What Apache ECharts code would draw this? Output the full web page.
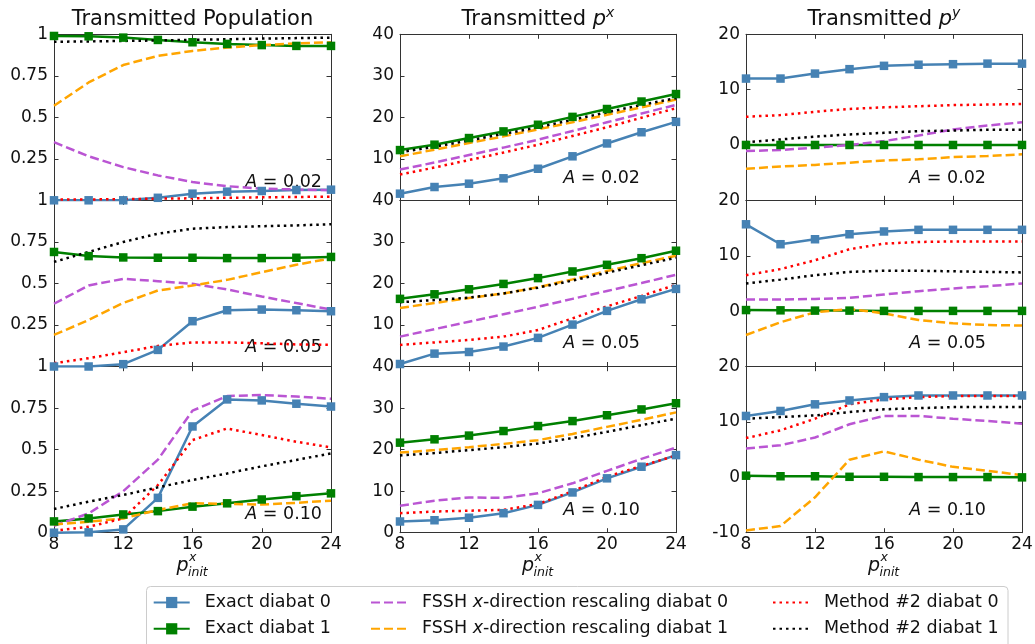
<!DOCTYPE html>
<html>
<head>
<meta charset="utf-8">
<script src="https://cdn.jsdelivr.net/npm/echarts@6/dist/echarts.min.js"></script>
<style>
  html, body { margin: 0; padding: 0; background: #fff; }
  #chart { width: 1035px; height: 644px; }
</style>
</head>
<body>
<div id="chart"></div>
<script>
// x values shared by every panel
const pInit = [8, 10, 12, 14, 16, 18, 20, 22, 24]

const seriesNames = [
  'Exact diabat 0',
  'Exact diabat 1',
  'FSSH x-direction rescaling diabat 0',
  'FSSH x-direction rescaling diabat 1',
  'Method #2 diabat 0',
  'Method #2 diabat 1'
]
const amplitudes = ['0.02', '0.05', '0.10']

// each panel: six rows in the same order as seriesNames
// Transmitted population
const popA002 = [
  [0, 0, 0, 0.015, 0.04, 0.052, 0.056, 0.062, 0.064],
  [0.99, 0.988, 0.98, 0.966, 0.952, 0.942, 0.935, 0.93, 0.93],
  [0.35, 0.265, 0.2, 0.15, 0.11, 0.085, 0.07, 0.065, 0.06],
  [0.57, 0.71, 0.815, 0.87, 0.9, 0.92, 0.935, 0.945, 0.952],
  [0.005, 0.005, 0.007, 0.01, 0.012, 0.015, 0.018, 0.02, 0.022],
  [0.955, 0.957, 0.96, 0.963, 0.967, 0.97, 0.974, 0.977, 0.98]
]
const popA005 = [
  [0, 0, 0.014, 0.1, 0.273, 0.339, 0.343, 0.339, 0.333],
  [0.69, 0.665, 0.657, 0.655, 0.655, 0.653, 0.653, 0.655, 0.66],
  [0.378, 0.488, 0.528, 0.514, 0.498, 0.464, 0.422, 0.382, 0.343],
  [0.19, 0.28, 0.383, 0.458, 0.488, 0.522, 0.568, 0.613, 0.651],
  [0.02, 0.05, 0.086, 0.124, 0.145, 0.145, 0.14, 0.133, 0.13],
  [0.63, 0.69, 0.75, 0.8, 0.83, 0.84, 0.845, 0.85, 0.857]
]
const popA010 = [
  [0, 0.002, 0.02, 0.21, 0.64, 0.803, 0.797, 0.777, 0.76],
  [0.068, 0.086, 0.11, 0.13, 0.157, 0.177, 0.2, 0.22, 0.237],
  [0.042, 0.116, 0.25, 0.44, 0.735, 0.823, 0.829, 0.82, 0.807],
  [0.05, 0.066, 0.086, 0.137, 0.177, 0.173, 0.17, 0.18, 0.193],
  [0.012, 0.036, 0.086, 0.287, 0.558, 0.628, 0.588, 0.548, 0.514],
  [0.143, 0.187, 0.227, 0.273, 0.317, 0.357, 0.4, 0.438, 0.478]
]
// Transmitted p^x
const pxA002 = [
  [1.6, 3.2, 4.0, 5.3, 7.6, 10.6, 13.7, 16.4, 18.9],
  [12.1, 13.4, 15.0, 16.6, 18.2, 20.1, 22.0, 23.8, 25.6],
  [7.4, 9.1, 10.9, 12.7, 14.6, 16.7, 18.8, 20.9, 23.0],
  [10.6, 12.2, 13.8, 15.4, 17.1, 18.8, 20.6, 22.4, 24.3],
  [6.2, 7.9, 9.7, 11.5, 13.4, 15.5, 17.6, 19.9, 22.2],
  [11.6, 12.9, 14.4, 16.0, 17.6, 19.4, 21.2, 23.0, 24.6]
]
const pxA005 = [
  [0.6, 3.1, 3.5, 4.8, 6.9, 10.1, 13.4, 16.2, 18.7],
  [16.3, 17.4, 18.6, 19.9, 21.3, 22.9, 24.5, 26.1, 27.9],
  [7.2, 9.0, 10.8, 12.6, 14.4, 16.3, 18.2, 20.1, 22.1],
  [14.1, 15.3, 16.5, 17.6, 19.1, 21.0, 23.0, 24.9, 26.7],
  [5.2, 5.8, 6.4, 7.2, 8.8, 11.6, 14.5, 17.0, 19.7],
  [15.5, 16.0, 16.6, 17.6, 19.0, 20.7, 22.6, 24.4, 26.2]
]
const pxA010 = [
  [2.7, 3.0, 3.6, 4.7, 6.7, 9.7, 13.1, 15.9, 18.7],
  [21.7, 22.5, 23.4, 24.5, 25.7, 26.9, 28.3, 29.7, 31.2],
  [6.5, 7.7, 8.5, 8.4, 9.5, 11.9, 14.9, 17.8, 20.5],
  [19.3, 19.9, 20.6, 21.4, 22.3, 23.8, 25.5, 27.2, 29.0],
  [4.7, 5.1, 5.3, 5.5, 6.9, 10.0, 13.5, 16.1, 18.6],
  [18.6, 19.2, 19.9, 20.6, 21.5, 22.8, 24.3, 25.9, 27.5]
]
// Transmitted p^y
const pyA002 = [
  [12.0, 12.0, 12.9, 13.7, 14.3, 14.5, 14.6, 14.7, 14.7],
  [0, 0, 0, 0, 0, 0, 0, 0, 0],
  [-1.1, -0.9, -0.5, 0, 0.7, 1.7, 2.8, 3.5, 4.1],
  [-4.3, -3.9, -3.6, -3.2, -2.8, -2.6, -2.2, -2.0, -1.7],
  [5.1, 5.4, 6.0, 6.5, 6.8, 7.0, 7.2, 7.3, 7.4],
  [0.5, 1.0, 1.5, 1.9, 2.2, 2.5, 2.6, 2.75, 2.75]
]
const pyA005 = [
  [15.7, 12.1, 13.0, 13.9, 14.4, 14.7, 14.7, 14.7, 14.7],
  [0.2, 0.15, 0.1, 0.1, 0.05, 0.05, 0.05, 0.05, 0.05],
  [2.1, 2.1, 2.2, 2.4, 3.0, 3.6, 4.1, 4.5, 5.0],
  [-4.3, -2.0, -0.2, 0.4, -0.4, -1.6, -2.2, -2.5, -2.6],
  [6.5, 7.6, 9.2, 11.2, 12.2, 12.5, 12.6, 12.6, 12.6],
  [5.0, 5.7, 6.5, 7.1, 7.3, 7.3, 7.2, 7.1, 7.0]
]
const pyA010 = [
  [11.1, 12.0, 13.2, 13.9, 14.5, 14.8, 14.8, 14.8, 14.8],
  [0.3, 0.2, 0.2, 0.1, 0.1, 0.05, 0.05, 0.05, 0],
  [5.2, 5.8, 7.2, 9.6, 11.1, 11.1, 10.6, 10.2, 9.7],
  [-9.6, -8.8, -3.6, 3.2, 4.7, 3.2, 1.9, 1.2, 0.4],
  [7.1, 8.5, 10.6, 13.2, 14.1, 14.5, 14.7, 14.7, 14.7],
  [10.6, 10.9, 11.2, 11.8, 12.3, 12.5, 12.7, 12.7, 12.7]
]

const panels = [
  [popA002, pxA002, pyA002],
  [popA005, pxA005, pyA005],
  [popA010, pxA010, pyA010]
]

const FONT = 'DejaVu Sans'
const INK = '#111'
const AXIS = '#333'
const colors = ['#4682b4', '#008000', '#ba55d3', '#ffa500', '#ff0000', '#000000']
const lineTypes = ['solid', 'solid', [9, 4], [9, 4], [2.5, 4], [2.5, 4]]

const colLeft = [54, 400, 746]
const colWidth = [277, 276, 276]
const rowTop = [34.3, 200.5, 366.7]
const rowHeight = 166
const yRange = [
  { min: 0, max: 1, interval: 0.25 },
  { min: 0, max: 40, interval: 10 },
  { min: -10, max: 20, interval: 10 }
]
// A-label offsets from the right / bottom of each column
const aRight = [9, 36, 36]
const aAbove = [[18, 22, 22], [19, 22.6, 22.6], [18, 22.7, 22.7]]

const grids = [], xAxes = [], yAxes = [], series = [], graphics = []

const tick = { show: true, inside: true, length: 4.5, lineStyle: { color: AXIS, width: 1 } }
const line = { show: true, onZero: false, lineStyle: { color: AXIS, width: 1 } }

for (let r = 0; r < 3; r++) {
  for (let c = 0; c < 3; c++) {
    const g = r * 3 + c
    grids.push({
      left: colLeft[c], top: rowTop[r], width: colWidth[c], height: rowHeight,
      containLabel: false, outerBoundsMode: 'none'
    })
    xAxes.push({
      gridIndex: g, type: 'value', position: 'bottom', min: 8, max: 24, interval: 4,
      axisLine: line, axisTick: tick, splitLine: { show: false },
      axisLabel: { show: r === 2, fontSize: 17, color: INK, fontFamily: FONT, margin: 3 }
    })
    xAxes.push({
      gridIndex: g, type: 'value', position: 'top', min: 8, max: 24, interval: 4,
      axisLine: line, axisTick: tick, splitLine: { show: false }, axisLabel: { show: false }
    })
    yAxes.push({
      gridIndex: g, type: 'value', position: 'left', ...yRange[c],
      axisLine: line, axisTick: tick, splitLine: { show: false },
      axisLabel: { fontSize: 17, color: INK, fontFamily: FONT, margin: 6, showMinLabel: r === 2 }
    })
    yAxes.push({
      gridIndex: g, type: 'value', position: 'right', ...yRange[c],
      axisLine: line, axisTick: tick, splitLine: { show: false }, axisLabel: { show: false }
    })

    const data = panels[r][c]
    seriesNames.forEach((name, s) => {
      const exact = s < 2
      series.push({
        type: 'line',
        name: name,
        xAxisIndex: 2 * g,
        yAxisIndex: 2 * g,
        data: pInit.map((x, i) => [x, data[s][i]]),
        symbol: exact ? 'rect' : 'circle',
        symbolSize: 8.5,
        showSymbol: exact,
        clip: true,
        color: colors[s],
        // no marker for dashed / dotted curves (also hides the legend dot)
        itemStyle: { color: colors[s], opacity: exact ? 1 : 0 },
        lineStyle: { color: colors[s], width: 2.5, type: lineTypes[s], opacity: 1 },
        emphasis: { disabled: true }
      })
    })

    // "A = 0.02" label
    graphics.push({
      type: 'text',
      x: colLeft[c] + colWidth[c] - aRight[c],
      y: rowTop[r] + rowHeight - aAbove[r][c],
      style: {
        text: '{a|A} = ' + amplitudes[r],
        align: 'right', verticalAlign: 'middle',
        fontSize: 17.5, fontFamily: FONT, fill: INK,
        rich: { a: { fontStyle: 'italic', fontSize: 17.5, fontFamily: FONT, fill: INK } }
      }
    })
  }
}

// x axis names p^x_init under the bottom row
for (let c = 0; c < 3; c++) {
  const cx = colLeft[c] + colWidth[c] / 2
  graphics.push(
    { type: 'text', x: cx - 16, y: 566, style: { text: 'p', fontSize: 19, fontStyle: 'italic', fontFamily: FONT, fill: INK, verticalAlign: 'middle' } },
    { type: 'text', x: cx - 3.5, y: 557.5, style: { text: 'x', fontSize: 12.5, fontStyle: 'italic', fontFamily: FONT, fill: INK, verticalAlign: 'middle' } },
    { type: 'text', x: cx - 4.5, y: 572.5, style: { text: 'init', fontSize: 12.5, fontStyle: 'italic', fontFamily: FONT, fill: INK, verticalAlign: 'middle' } }
  )
}

// legend frame
graphics.push({
  type: 'rect', z: -1,
  shape: { x: 146.5, y: 586.5, width: 861.5, height: 80, r: 4 },
  style: { fill: 'rgba(255,255,255,0.8)', stroke: '#cccccc', lineWidth: 1 }
})

const titleTexts = [
  'Transmitted Population',
  '{t|Transmitted }{p|p}{s|x}',
  '{t|Transmitted }{p|p}{s|y}'
]
const titleRich = {
  t: { fontSize: 21, fontFamily: FONT, color: INK, lineHeight: 28 },
  p: { fontSize: 21, fontFamily: FONT, color: INK, fontStyle: 'italic', lineHeight: 28 },
  s: { fontSize: 14, fontFamily: FONT, color: INK, fontStyle: 'italic', lineHeight: 14, verticalAlign: 'top' }
}

const legendLeft = [152.7, 370, 772]

const chart = echarts.init(document.getElementById('chart'))
chart.setOption({
  animation: false,
  backgroundColor: '#fff',
  title: titleTexts.map((t, c) => ({
    text: t,
    left: colLeft[c] + colWidth[c] / 2,
    top: 6,
    textAlign: 'center',
    padding: 0,
    textStyle: { fontSize: 21, fontWeight: 'normal', fontFamily: FONT, color: INK, lineHeight: 28, rich: titleRich }
  })),
  legend: [0, 1, 2].map(k => ({
    data: seriesNames.slice(2 * k, 2 * k + 2),
    orient: 'vertical',
    left: legendLeft[k],
    top: 592.5,
    padding: 0,
    itemWidth: 36,
    itemHeight: 14,
    itemGap: 6.3,
    selectedMode: false,
    formatter: n => n.replace(' x-', ' {i|x}-'),
    textStyle: {
      fontSize: 17.5, fontFamily: FONT, color: INK, lineHeight: 20, padding: [0, 0, 0, 10],
      rich: { i: { fontSize: 17.5, fontFamily: FONT, color: INK, fontStyle: 'italic', lineHeight: 20 } }
    }
  })),
  grid: grids,
  xAxis: xAxes,
  yAxis: yAxes,
  series: series,
  graphic: graphics
})
</script>
</body>
</html>
